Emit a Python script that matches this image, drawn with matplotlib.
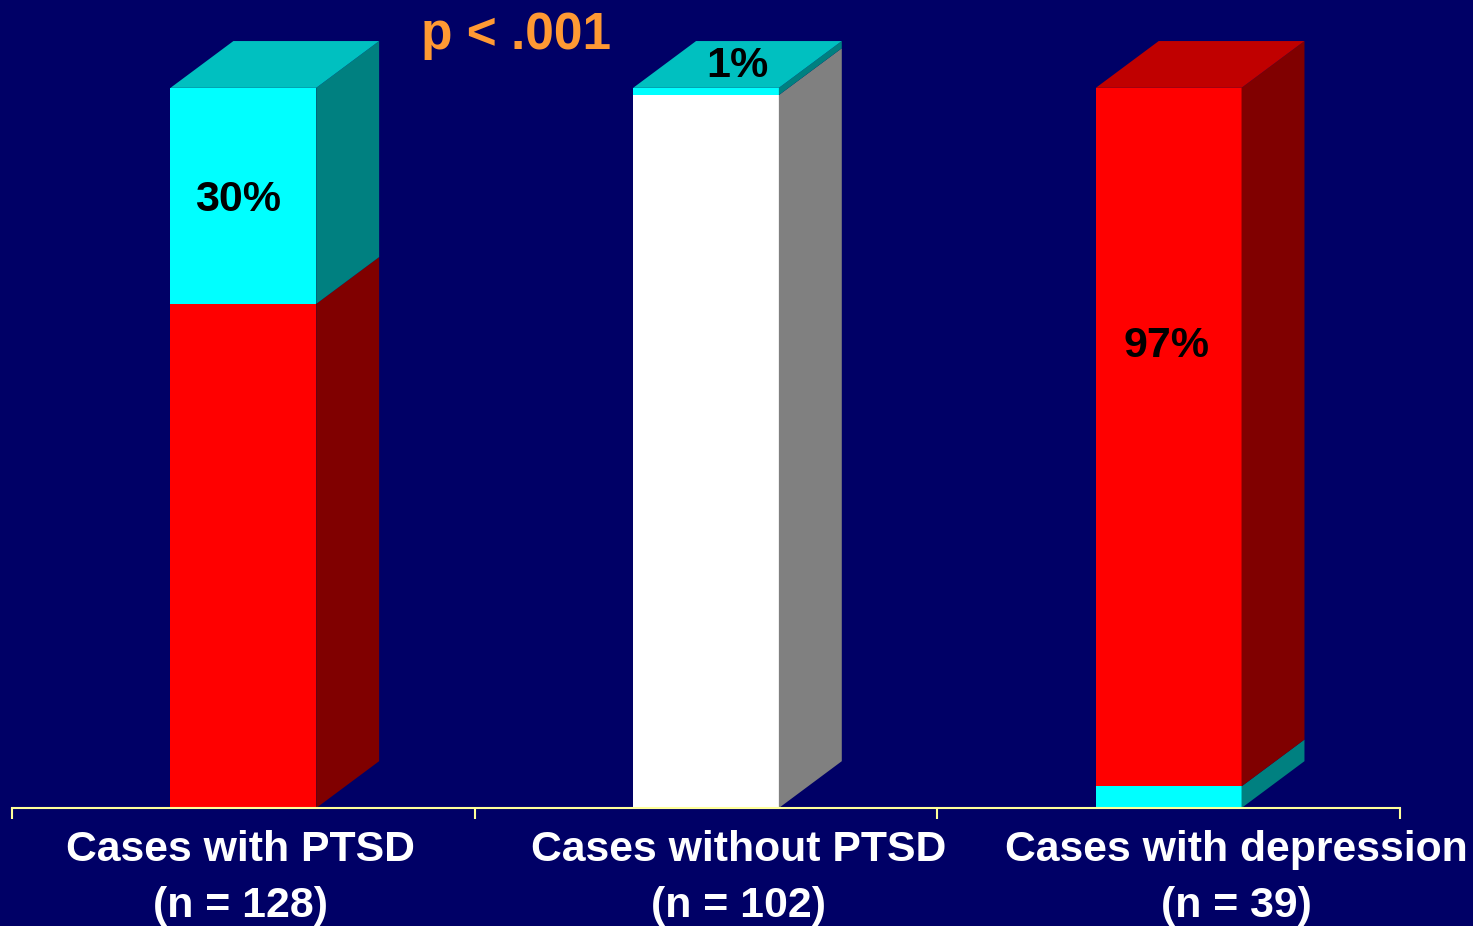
import numpy as np
import matplotlib.pyplot as plt
from matplotlib.patches import Polygon

plt.rcParams['font.family'] = ['Liberation Sans', 'DejaVu Sans']

groups = ['Cases with PTSD', 'Cases without PTSD', 'Cases with depression']
group_n = ['(n = 128)', '(n = 102)', '(n = 39)']
# stacked segments, bottom to top (percent)
seg_values = [[70, 30], [99, 1], [3, 97]]
seg_colors = [['red', 'cyan'], ['white', 'cyan'], ['cyan', 'red']]
pct_labels = ['30%', '1%', '97%']
p_text = 'p < .001'

front = {'red': '#ff0000', 'cyan': '#00ffff', 'white': '#ffffff'}
side = {'red': '#800000', 'cyan': '#008080', 'white': '#808080'}
top = {'red': '#c00000', 'cyan': '#00c0c0', 'white': '#c0c0c0'}

bg = '#000066'
fig = plt.figure(figsize=(14.73, 9.26), dpi=100, facecolor=bg)
ax = fig.add_axes([12 / 1473, 118 / 926, 1388 / 1473, 808 / 926])
ax.set_facecolor(bg)
ax.set_xlim(-0.5, 2.5)
ax.set_ylim(0, 112.2)

w = 0.315
dx, dy = 0.136, 6.5
x = np.arange(len(groups))

for i, (vals, cols) in enumerate(zip(seg_values, seg_colors)):
    b = 0
    x0, x1 = x[i] - w / 2, x[i] + w / 2
    for v, c in zip(vals, cols):
        ax.bar(x[i], v, w, bottom=b, color=front[c], linewidth=0, zorder=2)
        ax.add_patch(Polygon([(x1, b), (x1 + dx, b + dy), (x1 + dx, b + v + dy), (x1, b + v)],
                             closed=True, facecolor=side[c], edgecolor='none', zorder=2))
        b += v
    ax.add_patch(Polygon([(x0, b), (x1, b), (x1 + dx, b + dy), (x0 + dx, b + dy)],
                         closed=True, facecolor=top[cols[-1]], edgecolor='none', zorder=2))

# percentage labels (top segment of each bar)
pct_pos = [(-0.011, 84.4), (1.068, 103.0), (1.995, 64.2)]
for txt, (lx, ly) in zip(pct_labels, pct_pos):
    ax.text(lx, ly, txt, ha='center', va='center', fontsize=31, fontweight='bold',
            color='black', zorder=3)

ax.text(0.59, 107.3, p_text, ha='center', va='center', fontsize=37, fontweight='bold',
        color='#ff9933')

# axis line and category ticks
for s in ['left', 'right', 'top']:
    ax.spines[s].set_visible(False)
ax.spines['bottom'].set_color('#ffff99')
ax.spines['bottom'].set_linewidth(1.5)
ax.set_yticks([])
ax.set_xticks([-0.5, 0.5, 1.5, 2.5])
ax.set_xticklabels([])
ax.tick_params(axis='x', colors='#ffff99', length=8, width=1.5, direction='out')

label_x = [-0.007, 1.07, 2.146]
for lx, g, n in zip(label_x, groups, group_n):
    ax.text(lx, -5.9, g, ha='center', va='center', fontsize=30.8, fontweight='bold',
            color='white', clip_on=False)
    ax.text(lx, -13.6, n, ha='center', va='center', fontsize=30.8, fontweight='bold',
            color='white', clip_on=False)

fig.savefig('out.png', dpi=100, facecolor=bg)
